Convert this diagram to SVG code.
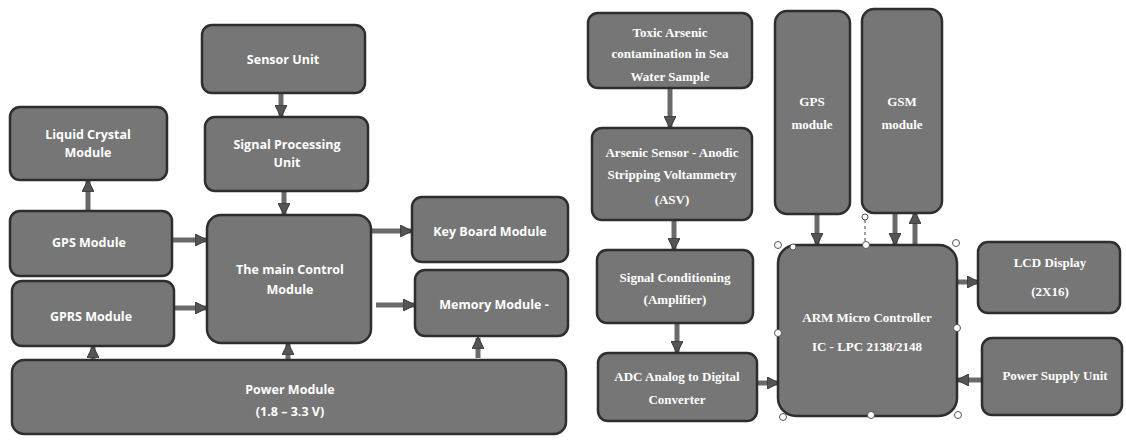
<svg xmlns="http://www.w3.org/2000/svg" width="1126" height="443" viewBox="0 0 1126 443">
<style>
.box{fill:#767676;stroke:#2e2e2e;stroke-width:2.5}
.ls{font-family:"Open Sans","Liberation Sans",sans-serif;font-weight:bold;font-size:12.5px;fill:#fff;text-anchor:middle}
.rs{font-family:"Liberation Serif",serif;font-weight:bold;font-size:13px;fill:#fff;text-anchor:middle}
.c{stroke:#6a6a6a;stroke-width:5;fill:none}
.h{fill:#fff;stroke:#555;stroke-width:1}
</style>
<defs>
<marker id="ah" viewBox="0 0 10 10" refX="9" refY="5" markerWidth="2.4" markerHeight="2.4" orient="auto" markerUnits="strokeWidth">
<path d="M0,0 L10,5 L0,10 z" fill="#555" stroke="#333" stroke-width="0.8"/>
</marker>
</defs>
<rect width="1126" height="443" fill="#fff"/>
<g id="connectors">
<line class="c" x1="281" y1="93" x2="281" y2="116" marker-end="url(#ah)"/>
<line class="c" x1="284" y1="191" x2="284" y2="214" marker-end="url(#ah)"/>
<line class="c" x1="88" y1="210" x2="88" y2="181" marker-end="url(#ah)"/>
<line class="c" x1="172" y1="240" x2="206" y2="240" marker-end="url(#ah)"/>
<line class="c" x1="174" y1="308" x2="206" y2="308" marker-end="url(#ah)"/>
<line class="c" x1="371" y1="231" x2="411" y2="231" marker-end="url(#ah)"/>
<line class="c" x1="376" y1="305" x2="414" y2="305" marker-end="url(#ah)"/>
<line class="c" x1="93" y1="365" x2="93" y2="347" marker-end="url(#ah)"/>
<line class="c" x1="288" y1="362" x2="288" y2="344" marker-end="url(#ah)"/>
<line class="c" x1="478" y1="358" x2="478" y2="338" marker-end="url(#ah)"/>
<line class="c" x1="670" y1="88" x2="670" y2="127" marker-end="url(#ah)"/>
<line class="c" x1="674" y1="220" x2="674" y2="249" marker-end="url(#ah)"/>
<line class="c" x1="677" y1="323" x2="677" y2="352" marker-end="url(#ah)"/>
<line class="c" x1="757" y1="383" x2="778" y2="383" marker-end="url(#ah)"/>
<line class="c" x1="817" y1="214" x2="817" y2="244" marker-end="url(#ah)"/>
<line class="c" x1="895" y1="213" x2="895" y2="244" marker-end="url(#ah)"/>
<line class="c" x1="915" y1="244" x2="915" y2="213" marker-end="url(#ah)"/>
<line class="c" x1="957" y1="282" x2="978" y2="282" marker-end="url(#ah)"/>
<line class="c" x1="982" y1="380" x2="958" y2="380" marker-end="url(#ah)"/>
</g>
<g id="sensor-unit"><rect class="box" x="202" y="25" width="163" height="68" rx="10"/><text class="ls" x="283" y="64">Sensor Unit</text></g>
<g id="signal-processing"><rect class="box" x="205" y="117" width="163" height="74" rx="10"/><text class="ls" x="287" y="149">Signal Processing</text><text class="ls" x="287" y="167">Unit</text></g>
<g id="liquid-crystal"><rect class="box" x="10" y="107" width="157" height="73" rx="10"/><text class="ls" x="88" y="139">Liquid Crystal</text><text class="ls" x="88" y="157">Module</text></g>
<g id="gps-module-left"><rect class="box" x="10" y="211" width="162" height="65" rx="10"/><text class="ls" x="89" y="247">GPS Module</text></g>
<g id="gprs-module"><rect class="box" x="12" y="281" width="162" height="65" rx="10"/><text class="ls" x="91" y="321">GPRS  Module</text></g>
<g id="main-control"><rect class="box" x="207" y="215" width="164" height="128" rx="14"/><text class="ls" x="290" y="274" font-size="13.5">The main Control</text><text class="ls" x="290" y="294" font-size="13.5">Module</text></g>
<g id="keyboard-module"><rect class="box" x="412" y="197" width="156" height="65" rx="10"/><text class="ls" x="490" y="236">Key Board Module</text></g>
<g id="memory-module"><rect class="box" x="415" y="270" width="153" height="66" rx="10"/><text class="ls" x="494" y="309">Memory  Module  -</text></g>
<g id="power-module"><rect class="box" x="12" y="360" width="554" height="74" rx="12"/><text class="ls" x="290" y="394">Power Module</text><text class="ls" x="290" y="416">(1.8 – 3.3 V)</text></g>
<g id="toxic-arsenic"><rect class="box" x="588" y="13" width="164" height="75" rx="10"/><text class="rs" x="670" y="37">Toxic Arsenic</text><text class="rs" x="670" y="58">contamination  in Sea</text><text class="rs" x="670" y="81">Water Sample</text></g>
<g id="arsenic-sensor"><rect class="box" x="592" y="128" width="160" height="92" rx="10"/><text class="rs" x="672" y="157">Arsenic Sensor - Anodic</text><text class="rs" x="672" y="179">Stripping  Voltammetry</text><text class="rs" x="672" y="204">(ASV)</text></g>
<g id="signal-conditioning"><rect class="box" x="597" y="250" width="156" height="73" rx="10"/><text class="rs" x="675" y="282">Signal Conditioning</text><text class="rs" x="675" y="304">(Amplifier)</text></g>
<g id="adc"><rect class="box" x="598" y="353" width="159" height="68" rx="10"/><text class="rs" x="677" y="381">ADC  Analog to Digital</text><text class="rs" x="677" y="404">Converter</text></g>
<g id="gps-module-right"><rect class="box" x="775" y="11" width="75" height="203" rx="12"/><text class="rs" x="812" y="106">GPS</text><text class="rs" x="812" y="129">module</text></g>
<g id="gsm-module"><rect class="box" x="862" y="9" width="80" height="204" rx="12"/><text class="rs" x="902" y="106">GSM</text><text class="rs" x="902" y="129">module</text></g>
<g id="arm-controller"><rect class="box" x="778" y="245" width="179" height="171" rx="18"/><text class="rs" x="867" y="322">ARM Micro Controller</text><text class="rs" x="867" y="351">IC - LPC 2138/2148</text>
<line x1="865" y1="220" x2="865" y2="244" stroke="#444" stroke-width="1" stroke-dasharray="3,3"/>
<circle class="h" cx="865" cy="217" r="3"/>
<circle class="h" cx="778" cy="245" r="3.5"/><circle class="h" cx="793" cy="247" r="3"/><circle class="h" cx="866" cy="245" r="3.5"/><circle class="h" cx="956" cy="243" r="3.5"/>
<circle class="h" cx="778" cy="333" r="3.5"/><circle class="h" cx="957" cy="328" r="3.5"/>
<circle class="h" cx="783" cy="417" r="3.5"/><circle class="h" cx="871" cy="415" r="3.5"/><circle class="h" cx="958" cy="415" r="3.5"/></g>
<g id="lcd-display"><rect class="box" x="978" y="242" width="142" height="71" rx="10"/><text class="rs" x="1050" y="267">LCD Display</text><text class="rs" x="1050" y="296">(2X16)</text></g>
<g id="power-supply"><rect class="box" x="982" y="338" width="140" height="77" rx="10"/><text class="rs" x="1055" y="380">Power Supply  Unit</text></g>
</svg>
